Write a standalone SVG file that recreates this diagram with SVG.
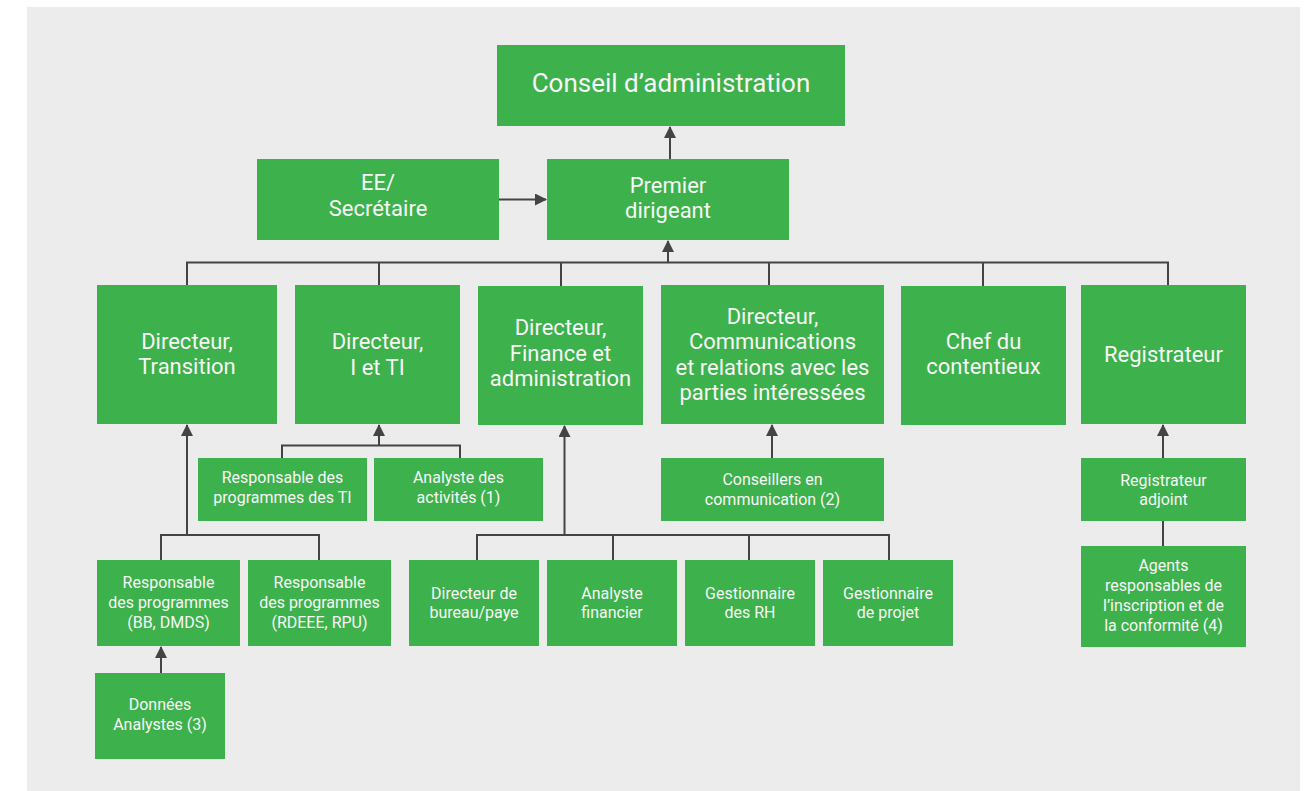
<svg xmlns="http://www.w3.org/2000/svg" width="1307" height="791" viewBox="0 0 1307 791">
<defs>
<style>
.bx{fill:#3DB14B;}
.t{fill:#F7F7F7;font-family:Roboto,"Liberation Sans",sans-serif;text-anchor:middle;}
.xl{font-size:26px;}
.lg{font-size:22px;}
.sm{font-size:16px;}
.ln{stroke:#444444;stroke-width:2;fill:none;}
</style>
<marker id="ah" markerUnits="userSpaceOnUse" markerWidth="12" markerHeight="12" viewBox="0 0 12 12" refX="11" refY="6" orient="auto">
<path d="M0,0 L12,6 L0,12 Z" fill="#444444"/>
</marker>
</defs>
<rect x="0" y="0" width="1307" height="791" fill="#FFFFFF"/>
<rect x="27" y="7" width="1273" height="784" fill="#ECECEC"/>

<g id="connectors">
<line class="ln" x1="670" y1="159" x2="670" y2="127" marker-end="url(#ah)"/>
<line class="ln" x1="499" y1="199.5" x2="546" y2="199.5" marker-end="url(#ah)"/>
<polyline class="ln" points="187,285 187,262.5 1168,262.5 1168,285"/>
<line class="ln" x1="379" y1="262.5" x2="379" y2="285"/>
<line class="ln" x1="561" y1="262.5" x2="561" y2="286"/>
<line class="ln" x1="769" y1="262.5" x2="769" y2="285"/>
<line class="ln" x1="983" y1="262.5" x2="983" y2="286"/>
<line class="ln" x1="668" y1="262.5" x2="668" y2="241" marker-end="url(#ah)"/>
<line class="ln" x1="187" y1="535" x2="187" y2="425" marker-end="url(#ah)"/>
<polyline class="ln" points="161,560 161,535 319,535 319,560"/>
<line class="ln" x1="161" y1="673" x2="161" y2="647" marker-end="url(#ah)"/>
<line class="ln" x1="379" y1="445.5" x2="379" y2="425" marker-end="url(#ah)"/>
<polyline class="ln" points="282,458 282,445.5 460,445.5 460,458"/>
<line class="ln" x1="564.5" y1="535" x2="564.5" y2="426" marker-end="url(#ah)"/>
<polyline class="ln" points="477,560 477,535 889,535 889,560"/>
<line class="ln" x1="613" y1="535" x2="613" y2="560"/>
<line class="ln" x1="749" y1="535" x2="749" y2="560"/>
<line class="ln" x1="772" y1="458" x2="772" y2="425" marker-end="url(#ah)"/>
<line class="ln" x1="1163" y1="458" x2="1163" y2="425" marker-end="url(#ah)"/>
<line class="ln" x1="1163" y1="521" x2="1163" y2="546"/>
</g>

<g id="conseil"><rect class="bx" x="497" y="45" width="348" height="81"/><text class="t xl" x="671" y="91.5">Conseil d’administration</text></g>
<g id="ee"><rect class="bx" x="257" y="159" width="242" height="81"/><text class="t lg" x="378" y="190">EE/</text><text class="t lg" x="378" y="216">Secrétaire</text></g>
<g id="premier"><rect class="bx" x="547" y="159" width="242" height="81"/><text class="t lg" x="668" y="193">Premier</text><text class="t lg" x="668" y="218">dirigeant</text></g>

<g id="dir-transition"><rect class="bx" x="97" y="285" width="180" height="139"/><text class="t lg" x="187" y="349">Directeur,</text><text class="t lg" x="187" y="374">Transition</text></g>
<g id="dir-iti"><rect class="bx" x="295" y="285" width="165" height="139"/><text class="t lg" x="377.5" y="349">Directeur,</text><text class="t lg" x="377.5" y="375">I et TI</text></g>
<g id="dir-finance"><rect class="bx" x="478" y="286" width="165" height="139"/><text class="t lg" x="560.5" y="335">Directeur,</text><text class="t lg" x="560.5" y="360.5">Finance et</text><text class="t lg" x="560.5" y="386">administration</text></g>
<g id="dir-comm"><rect class="bx" x="661" y="285" width="223" height="139"/><text class="t lg" x="772.5" y="323.5">Directeur,</text><text class="t lg" x="772.5" y="349">Communications</text><text class="t lg" x="772.5" y="374.5">et relations avec les</text><text class="t lg" x="772.5" y="400">parties intéressées</text></g>
<g id="chef"><rect class="bx" x="901" y="286" width="165" height="139"/><text class="t lg" x="983.5" y="348.5">Chef du</text><text class="t lg" x="983.5" y="374">contentieux</text></g>
<g id="registrateur"><rect class="bx" x="1081" y="285" width="165" height="139"/><text class="t lg" x="1163.5" y="362">Registrateur</text></g>

<g id="resp-ti"><rect class="bx" x="198" y="458" width="169" height="63"/><text class="t sm" x="282.5" y="483">Responsable des</text><text class="t sm" x="282.5" y="503">programmes des TI</text></g>
<g id="analyste-act"><rect class="bx" x="374" y="458" width="169" height="63"/><text class="t sm" x="458.5" y="483">Analyste des</text><text class="t sm" x="458.5" y="503">activités (1)</text></g>
<g id="conseillers"><rect class="bx" x="661" y="458" width="223" height="63"/><text class="t sm" x="772.5" y="485">Conseillers en</text><text class="t sm" x="772.5" y="505">communication (2)</text></g>
<g id="reg-adj"><rect class="bx" x="1081" y="458" width="165" height="63"/><text class="t sm" x="1163.5" y="486">Registrateur</text><text class="t sm" x="1163.5" y="505">adjoint</text></g>

<g id="resp-bb"><rect class="bx" x="97" y="560" width="143" height="86"/><text class="t sm" x="168.5" y="588">Responsable</text><text class="t sm" x="168.5" y="607.5">des programmes</text><text class="t sm" x="168.5" y="628">(BB, DMDS)</text></g>
<g id="resp-rdeee"><rect class="bx" x="248" y="560" width="143" height="86"/><text class="t sm" x="319.5" y="588">Responsable</text><text class="t sm" x="319.5" y="607.5">des programmes</text><text class="t sm" x="319.5" y="628">(RDEEE, RPU)</text></g>
<g id="donnees"><rect class="bx" x="95" y="673" width="130" height="86"/><text class="t sm" x="160" y="710">Données</text><text class="t sm" x="160" y="730">Analystes (3)</text></g>

<g id="dir-bureau"><rect class="bx" x="409" y="560" width="130" height="86"/><text class="t sm" x="474" y="599">Directeur de</text><text class="t sm" x="474" y="618">bureau/paye</text></g>
<g id="analyste-fin"><rect class="bx" x="547" y="560" width="130" height="86"/><text class="t sm" x="612" y="599">Analyste</text><text class="t sm" x="612" y="618">financier</text></g>
<g id="gest-rh"><rect class="bx" x="685" y="560" width="130" height="86"/><text class="t sm" x="750" y="599">Gestionnaire</text><text class="t sm" x="750" y="618">des RH</text></g>
<g id="gest-projet"><rect class="bx" x="823" y="560" width="130" height="86"/><text class="t sm" x="888" y="599">Gestionnaire</text><text class="t sm" x="888" y="618">de projet</text></g>

<g id="agents"><rect class="bx" x="1081" y="546" width="165" height="101"/><text class="t sm" x="1163.5" y="571">Agents</text><text class="t sm" x="1163.5" y="591">responsables de</text><text class="t sm" x="1163.5" y="610.5">l’inscription et de</text><text class="t sm" x="1163.5" y="630.5">la conformité (4)</text></g>
</svg>
